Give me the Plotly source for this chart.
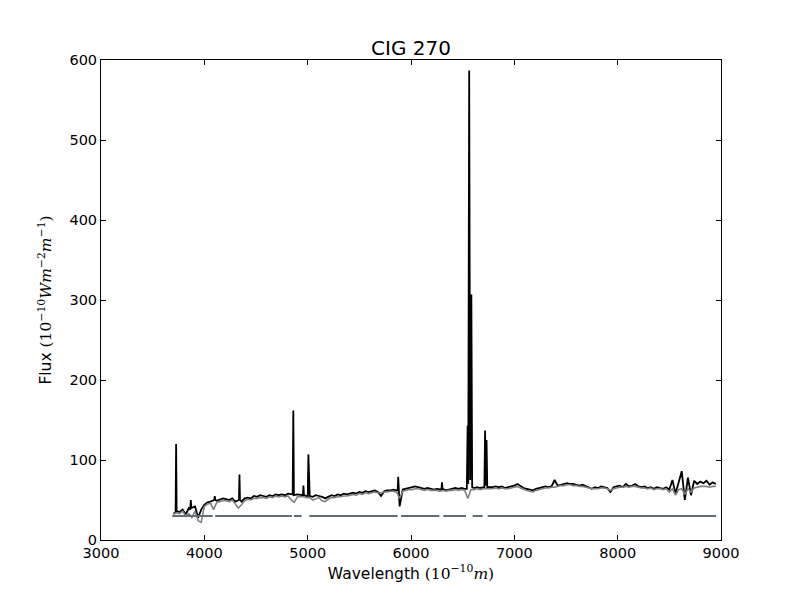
import plotly.graph_objects as go

# observed spectrum, continuum sampled every 30 A from 3700 A
obs_wave = list(range(3700, 8960, 30))
obs_flux = [
    33, 30, 35, 38, 32, 40, 36, 42, 28, 38,          # 3700-3970
    44, 47, 48, 50, 49, 51, 52, 51, 50, 52,          # 4000-4270
    48, 50, 48, 52, 53, 52, 55, 54, 56, 55,          # 4300-4570
    54, 56, 55, 57, 56, 57, 56, 58, 57, 56,          # 4600-4870
    57, 56, 56, 55, 55, 54, 56, 55, 54, 52,          # 4900-5170
    54, 56, 55, 57, 56, 58, 57, 58, 59, 58,          # 5200-5470
    60, 59, 61, 60, 61, 62, 60, 55, 61, 62,          # 5500-5770
    62, 63, 62, 42, 63, 64, 65, 66, 67, 66,          # 5800-6070
    65, 64, 65, 64, 63, 64, 63, 64, 62, 63,          # 6100-6370
    64, 65, 64, 65, 64, 66, 66, 65, 66, 65,          # 6400-6670
    66, 66, 66, 66, 67, 66, 67, 65, 66, 67,          # 6700-6970
    68, 70, 67, 65, 64, 63, 62, 64, 65, 66,          # 7000-7270
    67, 66, 67, 75, 68, 69, 70, 71, 70, 70,          # 7300-7570
    69, 68, 69, 67, 66, 64, 66, 65, 67, 66,          # 7600-7870
    65, 60, 66, 67, 68, 66, 70, 67, 68, 70,          # 7900-8170
    67, 66, 67, 65, 66, 64, 66, 65, 64, 66,          # 8200-8470
    63, 75, 58, 72, 86, 50, 78, 56, 74, 70,          # 8500-8770
    73, 71, 74, 69, 72, 70,                          # 8800-8950
]

# emission lines: wavelength, flux
line_wave = [3722, 3727, 3732, 3864, 3869, 3874, 4096, 4101, 4106,
             4335, 4340, 4345, 4855, 4861, 4867, 4954, 4959, 4964,
             5001, 5007, 5013, 5871, 5876, 5881, 6295, 6300, 6305,
             6540, 6548, 6554, 6563, 6573, 6584, 6592,
             6710, 6717, 6724, 6731, 6738]
line_flux = [34, 120, 36, 38, 50, 40, 50, 55, 50,
             50, 82, 50, 57, 162, 56, 56, 68, 56,
             55, 107, 55, 62, 79, 62, 63, 72, 64,
             64, 143, 70, 587, 75, 307, 66,
             66, 137, 68, 125, 66]

# stellar model, same 30 A grid
model_flux = [
    32, 34, 33, 36, 30, 33, 28, 36, 24, 22,          # 3700-3970
    42, 45, 46, 38, 47, 48, 49, 49, 48, 50,          # 4000-4270
    45, 40, 44, 49, 51, 50, 52, 52, 53, 53,          # 4300-4570
    52, 54, 53, 55, 54, 55, 54, 55, 50, 47,          # 4600-4870
    54, 54, 54, 53, 53, 50, 52, 53, 49, 48,          # 4900-5170
    51, 53, 53, 54, 54, 55, 55, 56, 57, 56,          # 5200-5470
    58, 57, 59, 58, 59, 60, 59, 59, 60, 60,          # 5500-5770
    61, 61, 60, 52, 61, 62, 63, 63, 64, 64,          # 5800-6070
    63, 62, 63, 62, 62, 62, 61, 62, 61, 62,          # 6100-6370
    62, 63, 62, 63, 62, 52, 63, 63, 64, 63,          # 6400-6670
    64, 64, 64, 64, 65, 64, 65, 64, 64, 65,          # 6700-6970
    66, 67, 65, 63, 62, 61, 60, 62, 63, 64,          # 7000-7270
    65, 65, 66, 66, 67, 68, 68, 69, 69, 68,          # 7300-7570
    68, 67, 67, 66, 65, 64, 64, 64, 65, 65,          # 7600-7870
    64, 62, 64, 65, 66, 66, 67, 66, 67, 67,          # 7900-8170
    66, 65, 65, 64, 65, 63, 64, 64, 63, 64,          # 8200-8470
    60, 64, 56, 63, 64, 57, 64, 60, 65, 66,          # 8500-8770
    67, 67, 67, 66, 67, 67,                          # 8800-8950
]

# masked-region indicator (None = gap)
mask_wave = [3690, 4080, None, 4105, 4848, None, 4866, 4942, None, 5016, 5871, None,
             5903, 6274, None, 6312, 6532, None, 6597, 6693, None, 6742, 8952]
mask_level = [30, 30, None, 30, 30, None, 30, 30, None, 30, 30, None,
              30, 30, None, 30, 30, None, 30, 30, None, 30, 30]

# merge continuum with line points, dropping grid samples inside line windows
pts = [(w, f) for w, f in zip(obs_wave, obs_flux)
       if min(abs(w - lw) for lw in line_wave) > 6]
pts += list(zip(line_wave, line_flux))
pts.sort()
black_x = [p[0] for p in pts]
black_y = [p[1] for p in pts]

fig = go.Figure()
fig.add_trace(go.Scatter(x=black_x, y=black_y, mode='lines',
                         line=dict(color='black', width=1.8)))
fig.add_trace(go.Scatter(x=obs_wave, y=model_flux, mode='lines',
                         line=dict(color='#808080', width=1.6)))
fig.add_trace(go.Scatter(x=mask_wave, y=mask_level, mode='lines',
                         line=dict(color='#5f6e73', width=2)))

serif = "font-family:'DejaVu Serif'"
axis_style = dict(showgrid=False, zeroline=False, showline=True, linecolor='black',
                  linewidth=1, mirror='allticks', ticks='inside', ticklen=5,
                  tickcolor='black', tickfont=dict(size=14.5, color='black'))

# page body has an 8px margin, so the plot area is shifted up/left to compensate
fig.update_layout(
    width=800, height=600,
    margin=dict(l=93, r=87, t=52, b=68),
    plot_bgcolor='white', paper_bgcolor='white',
    showlegend=False,
    font=dict(family='DejaVu Sans', color='black', size=15.5),
    title=dict(text='CIG 270', x=0.5, xref='paper', xanchor='center',
               y=1, yref='paper', yanchor='bottom', pad=dict(b=5),
               font=dict(size=20)),
    xaxis=dict(range=[3000, 9000], dtick=1000, tick0=3000,
               title=dict(text=f"Wavelength <span style=\"{serif}\">(10<sup>−10</sup><i>m</i>)</span>",
                          standoff=7, font=dict(size=15.5)), **axis_style),
    yaxis=dict(range=[0, 600], dtick=100, tick0=0,
               title=dict(text=f"Flux <span style=\"{serif}\">(10<sup>−10</sup><i>Wm</i><sup>−2</sup><i>m</i><sup>−1</sup>)</span>",
                          standoff=13, font=dict(size=15.5)), **axis_style),
)

fig.write_html("out.html")
